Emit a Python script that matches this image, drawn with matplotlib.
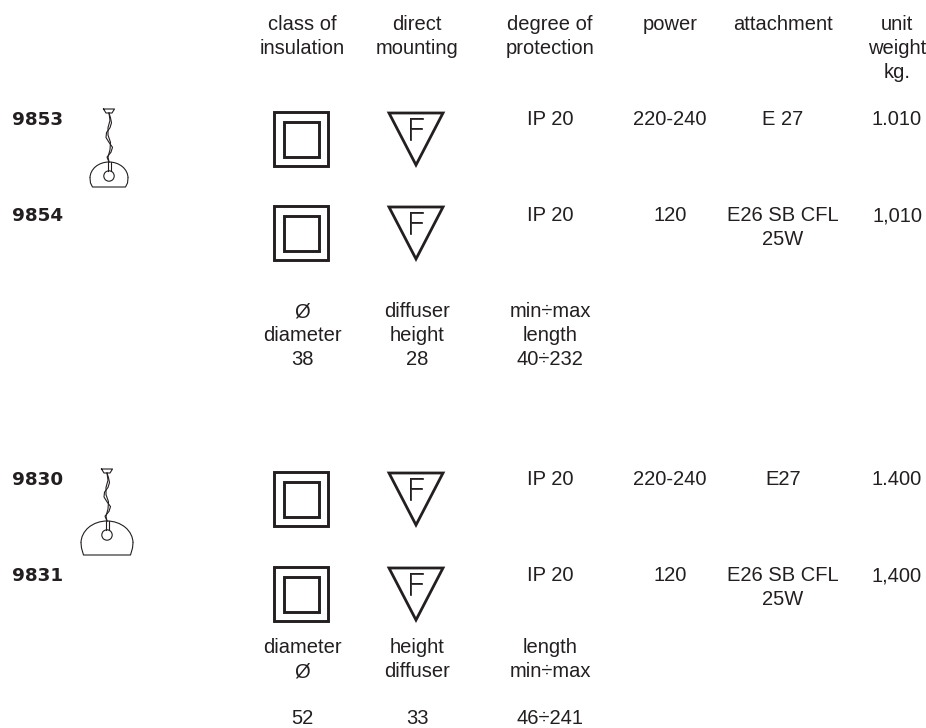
import matplotlib
matplotlib.use('Agg')
import matplotlib.pyplot as plt
import matplotlib.patheffects as pe
from matplotlib.patches import Arc, Circle, Polygon, Rectangle

INK = '#231f20'

header_labels = ['class of\ninsulation', 'direct\nmounting', 'degree of\nprotection',
                 'power', 'attachment', 'unit\nweight\nkg.']
codes = ['9853', '9854', '9830', '9831']
protection = ['IP 20', 'IP 20', 'IP 20', 'IP 20']
power = ['220-240', '120', '220-240', '120']
attachment = ['E 27', 'E26 SB CFL\n25W', 'E27', 'E26 SB CFL\n25W']
weight = ['1.010', '1,010', '1.400', '1,400']
dims_small = ['Ø\ndiameter\n38', 'diffuser\nheight\n28', 'min÷max\nlength\n40÷232']
dims_large_names = ['diameter\nØ', 'height\ndiffuser', 'length\nmin÷max']
dims_large_values = ['52', '33', '46÷241']

COL_X = [302, 417, 550, 670, 783, 897]
ROW_BASE = [125, 221, 485, 581]
ICON_TOP = [112, 206, 472, 567]
LINE_GAP = 24

# cable wobble: (fraction of length, sideways px)
STRAND_A = [(0, 0), (0.1, 1.5), (0.2, 2.5), (0.3, 1), (0.4, -2.5), (0.5, -3),
            (0.6, 0), (0.7, 3.5), (0.8, 2), (0.9, -2), (1, 0)]
STRAND_B = [(0, 0), (0.15, 1), (0.3, -1), (0.45, -1), (0.6, 1.5), (0.75, 1),
            (0.9, -1), (1, 0)]

plt.rcParams['font.family'] = ['Liberation Sans', 'DejaVu Sans']


def put_lines(ax, x, base, label, gap=LINE_GAP):
    for j, line in enumerate(label.split('\n')):
        ax.text(x, base + j * gap, line, ha='center', va='baseline',
                fontsize=14.5, color=INK)


def draw_insulation(ax, top):
    ax.add_patch(Rectangle((274, top), 54, 54, fill=False, ec=INK, lw=2.1))
    ax.add_patch(Rectangle((283.5, top + 9.5), 35, 35, fill=False, ec=INK, lw=2.1))


def draw_mounting(ax, top):
    ax.add_patch(Polygon([(389, top + 1), (443, top + 1), (416, top + 53)],
                         closed=True, fill=False, ec=INK, lw=2, joinstyle='miter'))
    ax.text(415.5, top + 28, 'F', ha='center', va='baseline', fontsize=22,
            family='Roboto', fontweight='light', color=INK,
            path_effects=[pe.withStroke(linewidth=0.5, foreground=INK)])


def draw_lamp(ax, cx, top, dome_top, dome_bottom, half_width, radius_y):
    lw = 0.8
    ax.plot([cx - 5.5, cx + 5.5, cx + 3, cx - 3, cx - 5.5],
            [top, top, top + 4, top + 4, top], color=INK, lw=lw)
    length = dome_top - (top + 4)
    for strand in (STRAND_A, STRAND_B):
        ax.plot([cx + dx for _, dx in strand],
                [top + 4 + frac * length for frac, _ in strand],
                color=INK, lw=lw, solid_joinstyle='round')
    ax.add_patch(Arc((cx, dome_top + radius_y), 2 * half_width, 2 * radius_y,
                     theta1=180, theta2=360, ec=INK, lw=lw))
    waist = dome_top + radius_y
    ax.plot([cx - half_width, cx - half_width + 0.5, cx - half_width + 2.5,
             cx + half_width - 2.5, cx + half_width - 0.5, cx + half_width],
            [waist, waist + 5, dome_bottom, dome_bottom, waist + 5, waist],
            color=INK, lw=lw)
    ax.plot([cx - 1.5, cx - 1.5], [dome_top, dome_top + 9], color=INK, lw=lw)
    ax.plot([cx + 1.5, cx + 1.5], [dome_top, dome_top + 9], color=INK, lw=lw)
    ax.add_patch(Circle((cx, dome_top + 14), 5.2, fill=False, ec=INK, lw=lw))


def main():
    fig = plt.figure(figsize=(9.26, 7.28), dpi=100)
    ax = fig.add_axes([0, 0, 1, 1])
    ax.set_xlim(0, 926)
    ax.set_ylim(728, 0)
    ax.axis('off')

    for x, label in zip(COL_X, header_labels):
        put_lines(ax, x, 30, label)

    for i, base in enumerate(ROW_BASE):
        ax.text(12, base, codes[i], ha='left', va='baseline', fontsize=13.2,
                family='DejaVu Sans', fontweight='bold', color=INK)
        draw_insulation(ax, ICON_TOP[i])
        draw_mounting(ax, ICON_TOP[i])
        put_lines(ax, COL_X[2], base, protection[i])
        put_lines(ax, COL_X[3], base, power[i])
        put_lines(ax, COL_X[4], base, attachment[i])
        put_lines(ax, COL_X[5], base, weight[i])

    for x, label in zip(COL_X, dims_small):
        put_lines(ax, x, 317, label)
    for x, label in zip(COL_X, dims_large_names):
        put_lines(ax, x, 653, label)
    for x, label in zip(COL_X, dims_large_values):
        put_lines(ax, x, 724, label)

    draw_lamp(ax, 109, 109, 162, 187, 19, 16)
    draw_lamp(ax, 107, 469, 521, 555, 26, 22)

    fig.savefig('out.png', dpi=100)
    plt.close(fig)


if __name__ == '__main__':
    main()
